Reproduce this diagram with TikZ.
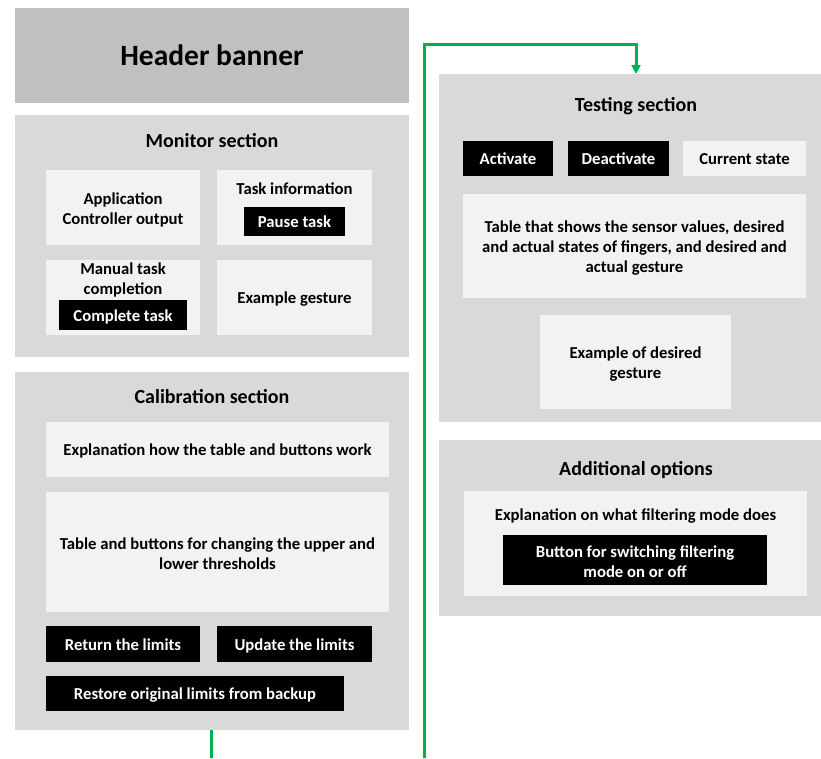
\documentclass[tikz,border=0pt]{standalone}
\usepackage{fontspec}
\setmainfont{Carlito}
\usetikzlibrary{arrows.meta}
\definecolor{bannergray}{HTML}{C0C0C0}
\definecolor{sectiongray}{HTML}{D9D9D9}
\definecolor{panelgray}{HTML}{F2F2F2}
\definecolor{linkgreen}{HTML}{00B050}
% line strut so that one-line boxed texts share one baseline
\newcommand\boxstrut{\rule[-4pt]{0pt}{20pt}}
\begin{document}
\begin{tikzpicture}[x=1pt,y=-1pt,
  every node/.style={inner sep=0pt, outer sep=0pt},
  area/.style={anchor=north west, draw=none, align=center},
  banner/.style={area, fill=bannergray, font=\bfseries\fontsize{29.5}{34}\selectfont},
  section/.style={area, fill=sectiongray},
  boxtext/.style={font=\bfseries\fontsize{16.7}{20}\selectfont,
    execute at begin node=\boxstrut, execute at end node=\boxstrut},
  panel/.style={area, boxtext, fill=panelgray},
  button/.style={area, boxtext, fill=black, text=white},
  title/.style={font=\bfseries\fontsize{20}{24}\selectfont},
  label/.style={font=\bfseries\fontsize{16.7}{20}\selectfont, align=center},
  multitext/.style={label, yshift=-2pt},
  link/.style={draw=linkgreen, line width=3pt}
]
\useasboundingbox[fill=white] (0,0) rectangle (821,758);

% header
\node[banner, minimum width=394, minimum height=95] (header) at (15,8) {Header banner};

% monitor section
\node[section, minimum width=394, minimum height=242] (monitor) at (15,115) {};
\node[title] (monitorT) at (212,141) {Monitor section};
\node[panel, minimum width=154, minimum height=75] (appout) at (46,170) {};
\node[multitext] (appoutT) at (appout.center) {Application\\Controller output};
\node[panel, minimum width=155, minimum height=75] (taskinfo) at (217,170) {};
\node[label] (taskinfoT) at (294.5,189) {Task information};
\node[button, minimum width=101, minimum height=29] (pause) at (244,207) {Pause task};
\node[panel, minimum width=154, minimum height=75] (manual) at (46,260) {};
\node[label] (manualT) at (123,280) {Manual task\\completion};
\node[button, minimum width=128, minimum height=30] (complete) at (59,300) {Complete task};
\node[panel, minimum width=155, minimum height=75] (example) at (217,260) {Example gesture};

% calibration section
\node[section, minimum width=394, minimum height=358] (calib) at (15,372) {};
\node[title] (calibT) at (212,397) {Calibration section};
\node[panel, minimum width=343, minimum height=55] (explain) at (46,422) {Explanation how the table and buttons work};
\node[panel, minimum width=343, minimum height=120] (thresholds) at (46,492) {};
\node[multitext] (thresholdsT) at (thresholds.center) {Table and buttons for changing the upper and\\lower thresholds};
\node[button, minimum width=154, minimum height=36] (return) at (46,626) {Return the limits};
\node[button, minimum width=155, minimum height=36] (update) at (217,626) {Update the limits};
\node[button, minimum width=298, minimum height=35] (restore) at (46,676) {Restore original limits from backup};

% testing section
\node[section, minimum width=382, minimum height=348] (testing) at (439,74) {};
\node[title] (testingT) at (636,106) {Testing section};
\node[button, minimum width=90, minimum height=35] (activate) at (463,141) {Activate};
\node[button, minimum width=101, minimum height=35] (deactivate) at (568,141) {Deactivate};
\node[panel, minimum width=123, minimum height=35] (state) at (683,141) {Current state};
\node[panel, minimum width=343, minimum height=104] (table) at (463,194) {};
\node[multitext] (tableT) at (table.center) {Table that shows the sensor values, desired\\and actual states of fingers, and desired and\\actual gesture};
\node[panel, minimum width=191, minimum height=94] (desired) at (540,315) {};
\node[multitext] (desiredT) at (desired.center) {Example of desired\\gesture};

% additional options
\node[section, minimum width=382, minimum height=176] (extra) at (439,440) {};
\node[title] (extraT) at (636,470) {Additional options};
\node[panel, minimum width=343, minimum height=105] (filterbox) at (464,491) {};
\node[label] (filterT) at (635.5,516) {Explanation on what filtering mode does};
\node[button, minimum width=264, minimum height=50] (filterbtn) at (503,535) {};
\node[multitext, text=white] (filterbtnT) at (filterbtn.center) {Button for switching filtering\\mode on or off};

% green connectors
\coordinate (calibOut) at (211,758);
\coordinate (testIn) at (424,758);
\coordinate (bend) at (636,44);
\draw[link] (calib.south -| calibOut) -- (calibOut);
\draw[link, -{Triangle[length=9pt, width=9pt]}] (testIn) |- (bend) -- (bend |- testing.north);
\end{tikzpicture}
\end{document}
